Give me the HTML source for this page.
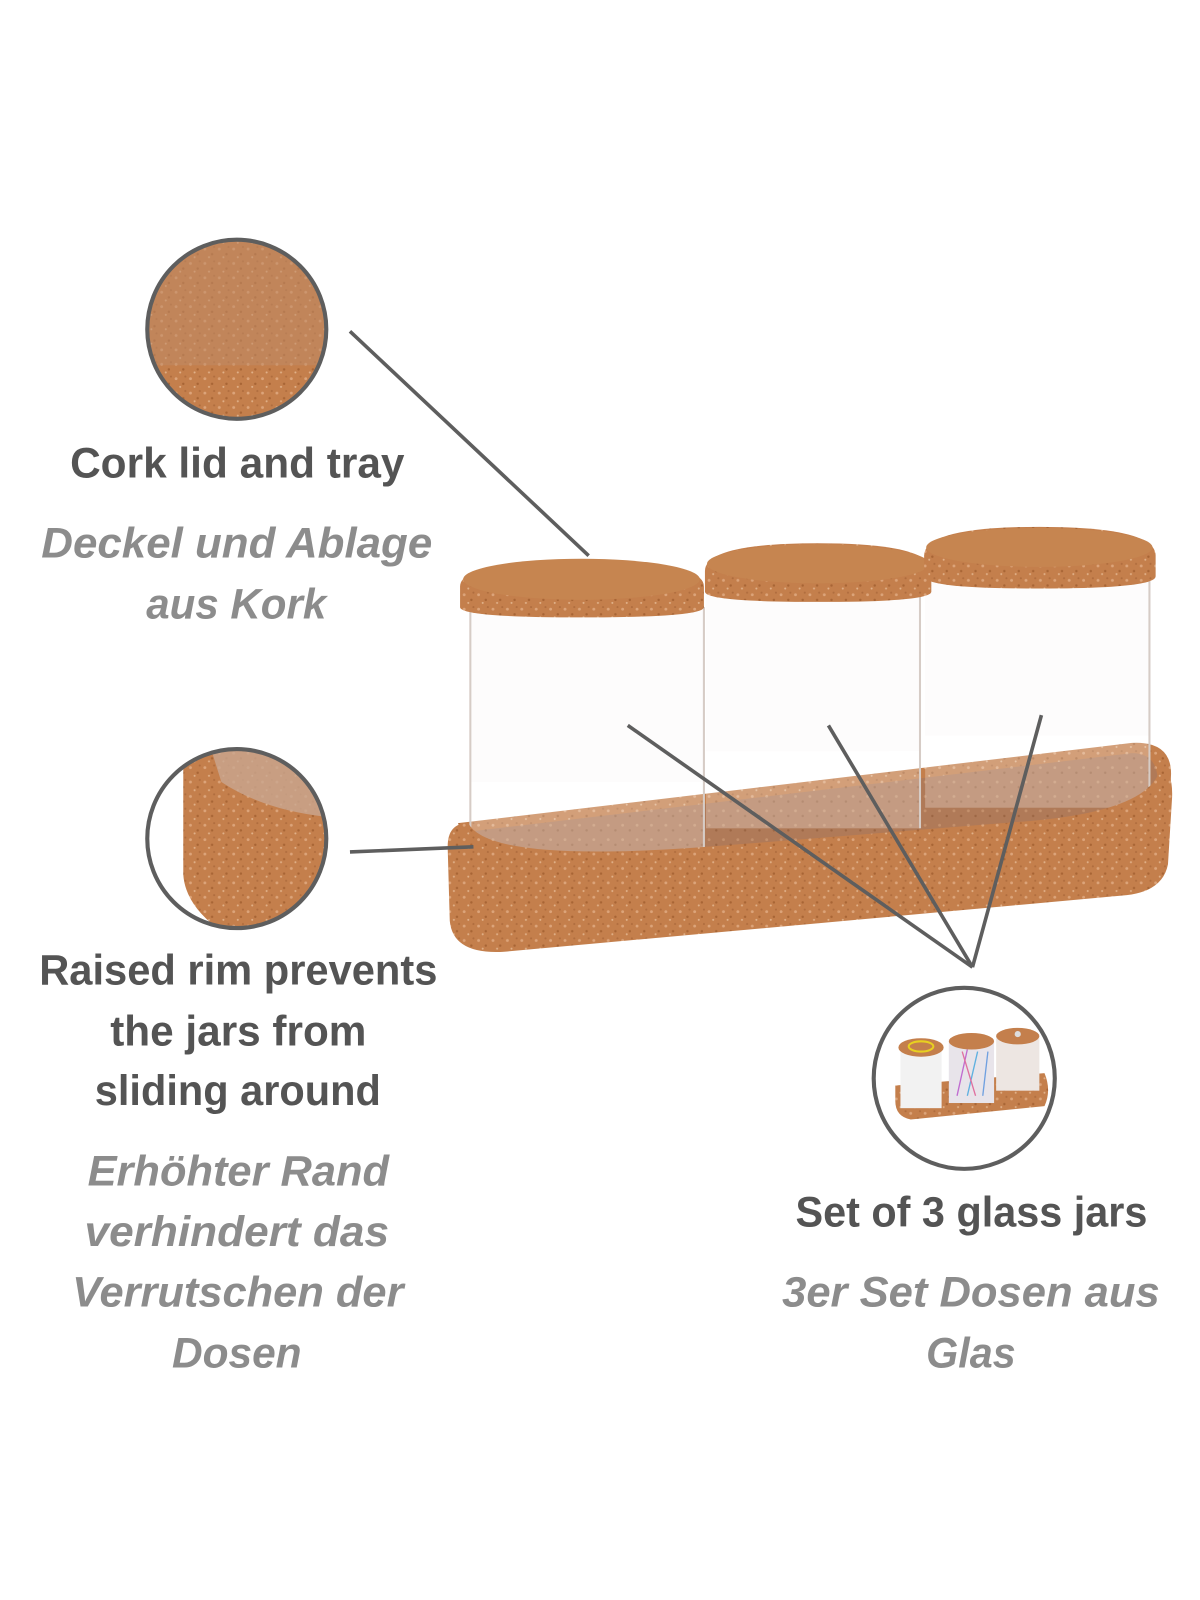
<!DOCTYPE html>
<html><head><meta charset="utf-8"><style>
html,body{margin:0;padding:0;background:#fff;}
svg{display:block}
.b{font-family:"Liberation Sans",sans-serif;font-weight:bold;fill:#545454;font-size:41px}
.i{font-family:"Liberation Sans",sans-serif;font-weight:bold;font-style:italic;fill:#8c8c8c;font-size:41px}
</style></head><body>
<svg width="1200" height="1600" viewBox="0 0 1166 1555" xmlns="http://www.w3.org/2000/svg">
<defs>
<pattern id="ck" width="14" height="14" patternUnits="userSpaceOnUse">
<rect width="14" height="14" fill="#c47f4c"/>
<circle cx="3" cy="4" r="1.4" fill="#dca47a"/><circle cx="10" cy="9" r="1.2" fill="#a86535"/>
<circle cx="7" cy="12" r="1" fill="#e0b088"/><circle cx="12" cy="2" r="1" fill="#b06d3e"/>
</pattern>
<pattern id="ckd" width="14" height="14" patternUnits="userSpaceOnUse">
<rect width="14" height="14" fill="#b07a58"/>
<circle cx="3" cy="4" r="1.4" fill="#c4906c"/><circle cx="10" cy="9" r="1.2" fill="#9c6644"/>
</pattern>
<clipPath id="c1"><circle cx="230" cy="320" r="86"/></clipPath>
<clipPath id="c2"><circle cx="230" cy="815" r="86"/></clipPath>
<clipPath id="c3"><circle cx="937" cy="1048" r="87"/></clipPath>
</defs>
<rect width="1166" height="1555" fill="#fff"/>

<g clip-path="url(#c1)">
<rect x="140" y="230" width="180" height="180" fill="url(#ck)"/>
<rect x="140" y="230" width="180" height="125" fill="#c08a66" opacity="0.55"/>
</g>
<circle cx="230" cy="320" r="87" fill="none" stroke="#5e5e5e" stroke-width="4"/>

<g clip-path="url(#c2)">
<rect x="140" y="725" width="180" height="180" fill="#fff"/>
<path d="M178 745 Q180 730 210 728 L330 728 L330 905 L215 905 Q180 880 178 850 Z" fill="url(#ck)"/>
<path d="M205 728 L330 728 L330 795 Q260 790 215 760 Z" fill="#c9a690" opacity="0.8"/>
</g>
<circle cx="230" cy="815" r="87" fill="none" stroke="#5e5e5e" stroke-width="4"/>

<g clip-path="url(#c3)">
<path d="M870 1055 L1015 1043 Q1022 1060 1015 1075 L885 1088 Q870 1085 870 1070 Z" fill="url(#ck)"/>
<rect x="875" y="1015" width="40" height="62" fill="#f2f2f2"/>
<rect x="922" y="1010" width="44" height="62" fill="#e8e4ea"/>
<rect x="968" y="1005" width="42" height="55" fill="#ede6e2"/>
<g stroke-width="1.3"><line x1="930" y1="1065" x2="940" y2="1020" stroke="#c06bd0"/><line x1="940" y1="1065" x2="950" y2="1022" stroke="#5fb0e0"/><line x1="948" y1="1065" x2="935" y2="1022" stroke="#e070a0"/><line x1="955" y1="1065" x2="960" y2="1022" stroke="#70a0e0"/></g>
<ellipse cx="895" cy="1018" rx="22" ry="9" fill="#c47f4c"/>
<ellipse cx="895" cy="1017" rx="12" ry="5" fill="none" stroke="#e8d020" stroke-width="2"/>
<ellipse cx="944" cy="1012" rx="22" ry="8" fill="#c47f4c"/>
<ellipse cx="989" cy="1007" rx="21" ry="8" fill="#c47f4c"/>
<circle cx="989" cy="1005" r="3" fill="#ddd"/>
</g>
<circle cx="937" cy="1048" r="88" fill="none" stroke="#5e5e5e" stroke-width="4"/>

<!-- tray back/inside -->
<path d="M445 800 L1100 722 Q1138 720 1138 752 L1136 800 L460 850 Z" fill="url(#ck)"/>
<path d="M458 808 L1100 732 Q1125 732 1125 760 L1120 800 L470 845 Z" fill="url(#ckd)"/>
<!-- jars -->
<g fill="#fdfcfc">
<rect x="457" y="590" width="227" height="170"/>
<rect x="686" y="575" width="208" height="155"/>
<rect x="899" y="560" width="218" height="155"/>
</g>
<g fill="#ffffff" opacity="0.25">
<rect x="457" y="760" width="227" height="70"/><rect x="686" y="730" width="208" height="75"/><rect x="899" y="715" width="218" height="70"/>
</g>
<g fill="none" stroke="#d6ccc6" stroke-width="2">
<line x1="457" y1="590" x2="457" y2="830"/><line x1="684" y1="590" x2="684" y2="825"/>
<line x1="894" y1="575" x2="894" y2="805"/><line x1="1117" y1="560" x2="1117" y2="785"/>
</g>
<path d="M447 570 Q447 545 565 545 Q684 545 684 570 L684 590 Q684 600 565 600 Q447 600 447 590 Z" fill="url(#ck)"/>
<ellipse cx="565" cy="563" rx="115" ry="20" fill="#c68550"/>
<path d="M685 555 Q685 528 795 528 Q905 528 905 555 L905 575 Q905 585 795 585 Q685 585 685 575 Z" fill="url(#ck)"/>
<ellipse cx="795" cy="548" rx="108" ry="19" fill="#c68550"/>
<path d="M898 540 Q898 512 1010 512 Q1123 512 1123 540 L1123 560 Q1123 572 1010 572 Q898 572 898 560 Z" fill="url(#ck)"/>
<ellipse cx="1010" cy="532" rx="110" ry="19" fill="#c68550"/>
<!-- tray front -->
<path d="M435 825 Q434 800 455 800 Q475 840 700 822 L1000 798 Q1120 788 1128 745 Q1140 750 1139 775 L1135 840 Q1130 866 1095 870 L490 925 Q440 928 437 895 Z" fill="url(#ck)"/>

<g stroke="#5e5e5e" stroke-width="3.5" fill="none">
<line x1="340" y1="322" x2="572" y2="540"/>
<line x1="340" y1="828" x2="460" y2="823"/>
<line x1="610" y1="705" x2="945" y2="940"/>
<line x1="805" y1="705" x2="945" y2="940"/>
<line x1="1012" y1="695" x2="945" y2="940"/>
</g>

<g transform="translate(0,-6)">
<text class="b" x="68" y="470" textLength="325" lengthAdjust="spacingAndGlyphs">Cork lid and tray</text>
<text class="i" x="40" y="548" textLength="380" lengthAdjust="spacingAndGlyphs">Deckel und Ablage</text>
<text class="i" x="142" y="607" textLength="175" lengthAdjust="spacingAndGlyphs">aus Kork</text>
<text class="b" x="38" y="963" textLength="387" lengthAdjust="spacingAndGlyphs">Raised rim prevents</text>
<text class="b" x="107" y="1022" textLength="249" lengthAdjust="spacingAndGlyphs">the jars from</text>
<text class="b" x="92" y="1080" textLength="278" lengthAdjust="spacingAndGlyphs">sliding around</text>
<text class="i" x="85" y="1158" textLength="293" lengthAdjust="spacingAndGlyphs">Erhöhter Rand</text>
<text class="i" x="82" y="1217" textLength="296" lengthAdjust="spacingAndGlyphs">verhindert das</text>
<text class="i" x="70" y="1276" textLength="322" lengthAdjust="spacingAndGlyphs">Verrutschen der</text>
<text class="i" x="167" y="1335" textLength="126" lengthAdjust="spacingAndGlyphs">Dosen</text>
<text class="b" x="773" y="1198" textLength="342" lengthAdjust="spacingAndGlyphs">Set of 3 glass jars</text>
<text class="i" x="760" y="1276" textLength="367" lengthAdjust="spacingAndGlyphs">3er Set Dosen aus</text>
<text class="i" x="900" y="1335" textLength="87" lengthAdjust="spacingAndGlyphs">Glas</text>
</g>
</svg>
</body></html>
